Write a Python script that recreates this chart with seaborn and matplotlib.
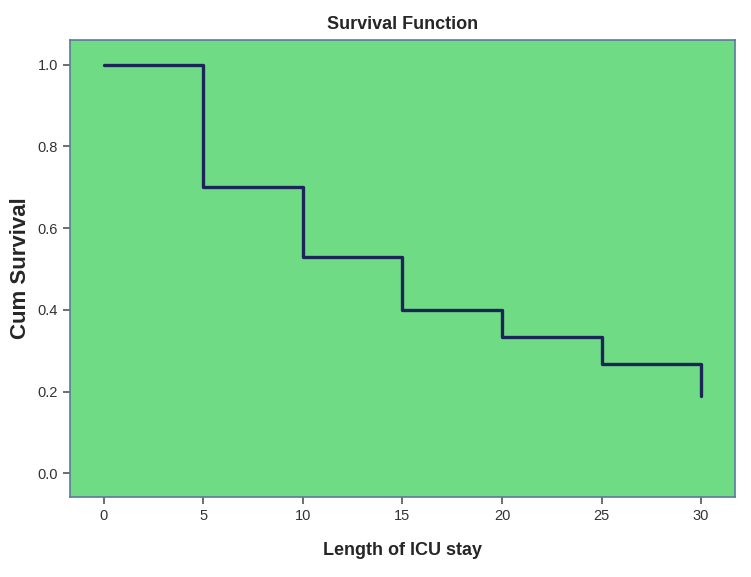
import pandas as pd
import seaborn as sns
import matplotlib.pyplot as plt

# Kaplan-Meier style survival curve
tempo = [0, 5, 10, 15, 20, 25, 30, 30]
sobrevida = [1.0, 0.70, 0.53, 0.40, 0.333, 0.267, 0.267, 0.19]
x_ticks = [0, 5, 10, 15, 20, 25, 30]
y_ticks = [0.0, 0.2, 0.4, 0.6, 0.8, 1.0]

df = pd.DataFrame({'tempo': tempo, 'sobrevida': sobrevida})

sns.set_style('white')
plt.rcParams['font.family'] = ['Liberation Sans', 'DejaVu Sans']

fig = plt.figure(figsize=(7.51, 5.77), dpi=100)
ax = fig.add_axes([0.0932, 0.1386, 0.8855, 0.7921])
ax.set_facecolor('#70DB85')

sns.lineplot(data=df, x='tempo', y='sobrevida', ax=ax, estimator=None, sort=False,
             drawstyle='steps-post', color='#1C2557', linewidth=2.4)

ax.set_xlim(-1.7, 31.7)
ax.set_ylim(-0.058, 1.06)
ax.set_xticks(x_ticks)
ax.set_xticklabels([str(t) for t in x_ticks])
ax.set_yticks(y_ticks)
ax.set_yticklabels([f'{t:.1f}' for t in y_ticks])
ax.tick_params(axis='both', direction='out', length=5, width=1.2, color='#555555',
               labelcolor='#333333', labelsize=10.5, bottom=True, left=True)

for s in ax.spines.values():
    s.set_color('#5A7A9A')
    s.set_linewidth(1.2)

ax.set_title('Survival Function', fontsize=13, fontweight='bold', pad=8)
ax.set_xlabel('Length of ICU stay', fontsize=13, fontweight='bold', labelpad=14)
ax.set_ylabel('Cum Survival', fontsize=16, fontweight='bold', labelpad=5)

plt.savefig('out.png', dpi=100)
